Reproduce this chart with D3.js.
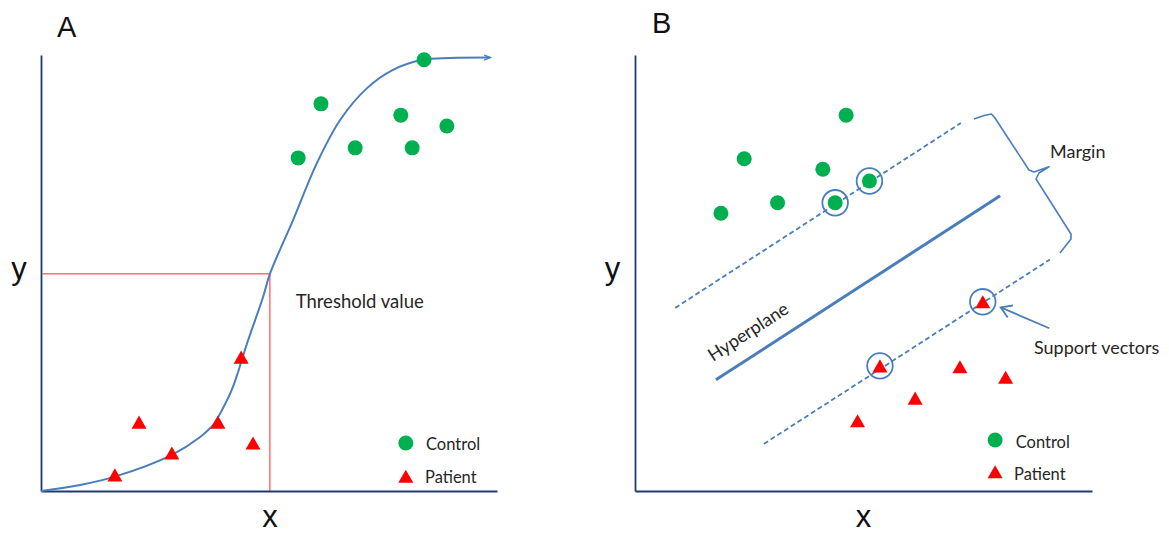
<!DOCTYPE html>
<html>
<head>
<meta charset="utf-8">
<script src="https://cdn.jsdelivr.net/npm/d3@7"></script>
<style>
  html, body { margin: 0; padding: 0; background: #ffffff; }
  svg { display: block; }
</style>
</head>
<body>
<svg id="chart" width="1169" height="534"></svg>
<script>
// ---------------- DATA ----------------
// Panel A: logistic-type curve (x, y in 0..100 units)
const curveAX = [0, 8.6, 16.2, 28.7, 34.9, 37.7, 39.7, 42.1, 45.2, 48.7, 50.2, 55.3, 60.5, 65.6, 71.5, 77.2, 83.8, 89.7, 98.5];
const curveAY = [0, 1.4, 3.3, 8.3, 12.4, 15.1, 18.6, 23.9, 33.9, 44.5, 49.8, 62.2, 75.2, 85.1, 92.4, 96.6, 98.9, 99.3, 99.4];
const controlA = [[56.4, 76.4], [61.4, 88.8], [68.9, 78.7], [78.9, 86.2], [81.4, 78.7], [89.0, 83.7], [84.0, 98.9]];
const patientA = [[16.2, 3.7], [21.5, 15.8], [28.7, 8.7], [38.8, 15.8], [43.9, 30.7], [46.5, 11.0]];
const thresholdA = [50.2, 49.8];

// Panel B: SVM
const controlB = [[18.8, 63.7], [23.9, 76.2], [31.2, 66.1], [41.1, 73.8], [46.2, 86.2], [43.8, 66.1], [51.3, 71.1]];
const patientB = [[76.1, 43.4], [53.6, 28.7], [71.1, 28.5], [81.1, 26.1], [61.3, 21.3], [48.7, 16.1]];
const supportB = [[43.8, 66.1], [51.3, 71.1], [76.1, 43.4], [53.6, 28.7]];
const upperMarginB = [[8.8, 42.0], [71.3, 84.4]];
const hyperplaneB = [[17.7, 25.5], [79.9, 67.7]];
const lowerMarginB = [[28.2, 10.8], [90.8, 53.1]];
const braceB = [[74.18, 85.32], [76.37, 86.12], [78.01, 86.47], [78.77, 85.55], [86.21, 73.62], [87.31, 73.17],
                [90.59, 74.38], [88.40, 72.94], [87.75, 71.56], [95.40, 58.94], [95.40, 57.80], [92.99, 54.59]];
const supportArrowB = [[90.66, 37.32], [80.02, 42.13]];

// Labels
const panelLabels = ["A", "B"];
const axisLabels = ["x", "y"];
const legendLabels = ["Control", "Patient"];
const thresholdLabel = "Threshold value";
const hyperplaneLabel = "Hyperplane";
const marginLabel = "Margin";
const supportLabel = "Support vectors";

// ---------------- STYLE ----------------
const COL_AXIS = "#1f3a6e";
const COL_LINE = "#4a7ebb";
const COL_GREEN = "#00b050";
const COL_RED = "#ff0000";
const COL_TEXT = "#262626";
const ANNOT_FONT = "Lato, 'Open Sans', sans-serif";
const BIG_FONT = "'Liberation Sans', Arial, sans-serif";

const svg = d3.select("#chart");

// marker defs
const defs = svg.append("defs");
defs.append("marker").attr("id", "arrowSmall").attr("markerUnits", "userSpaceOnUse")
  .attr("markerWidth", 20).attr("markerHeight", 20).attr("viewBox", "-10 -10 20 20")
  .attr("refX", 0).attr("refY", 0).attr("orient", "auto")
  .append("path").attr("d", "M-6,-2.5 L0,0 L-6,2.5").attr("fill", "none")
  .attr("stroke", COL_LINE).attr("stroke-width", 1.5);
defs.append("marker").attr("id", "arrowOpen").attr("markerUnits", "userSpaceOnUse")
  .attr("markerWidth", 30).attr("markerHeight", 30).attr("viewBox", "-15 -15 30 30")
  .attr("refX", 0).attr("refY", 0).attr("orient", "auto")
  .append("path").attr("d", "M-10.5,-6.5 L0,0 L-10.5,6.5").attr("fill", "none")
  .attr("stroke", COL_LINE).attr("stroke-width", 1.8).attr("stroke-linejoin", "miter");

// custom triangle symbol (bbox-centred)
const triangleSym = {
  draw(ctx, size) {
    const w = Math.sqrt(size * 1.73);
    const h = w * 0.87;
    ctx.moveTo(0, -h / 2);
    ctx.lineTo(w / 2, h / 2);
    ctx.lineTo(-w / 2, h / 2);
    ctx.closePath();
  }
};
const triPath = d3.symbol().type(triangleSym).size(130)();
const R_DOT = 7.5;

function drawAxes(g, x, y) {
  const xa = g.append("g").attr("transform", `translate(0,${y(0)})`)
    .call(d3.axisBottom(x).tickValues([]).tickSizeOuter(0));
  const ya = g.append("g").attr("transform", `translate(${x(0)},0)`)
    .call(d3.axisLeft(y).tickValues([]).tickSizeOuter(0));
  [xa, ya].forEach(a => a.select(".domain").attr("stroke", COL_AXIS).attr("stroke-width", 1.8));
}

function drawLegend(g, cx, cy1, cy2, tx1, tx2, by1, by2) {
  g.append("circle").attr("cx", cx).attr("cy", cy1).attr("r", R_DOT).attr("fill", COL_GREEN);
  g.append("path").attr("d", triPath).attr("transform", `translate(${cx},${cy2})`).attr("fill", COL_RED);
  g.append("text").attr("x", tx1).attr("y", by1).text(legendLabels[0])
    .attr("font-family", ANNOT_FONT).attr("font-size", 16.5).attr("fill", COL_TEXT);
  g.append("text").attr("x", tx2).attr("y", by2).text(legendLabels[1])
    .attr("font-family", ANNOT_FONT).attr("font-size", 16.5).attr("fill", COL_TEXT);
}

// ---------------- PANEL A ----------------
const xA = d3.scaleLinear().domain([0, 100]).range([41, 497]);
const yA = d3.scaleLinear().domain([0, 100]).range([491, 55]);
const gA = svg.append("g");

drawAxes(gA, xA, yA);

// threshold lines
gA.append("line").attr("x1", xA(0) + 1.5).attr("x2", xA(thresholdA[0]))
  .attr("y1", yA(thresholdA[1])).attr("y2", yA(thresholdA[1]))
  .attr("stroke", COL_RED).attr("stroke-width", 1).attr("stroke-opacity", 0.85);
gA.append("line").attr("x1", xA(thresholdA[0])).attr("x2", xA(thresholdA[0]))
  .attr("y1", yA(thresholdA[1])).attr("y2", yA(0))
  .attr("stroke", COL_RED).attr("stroke-width", 1).attr("stroke-opacity", 0.85);

// curve
const curveA = curveAX.map((v, i) => [v, curveAY[i]]);
gA.append("path").datum(curveA)
  .attr("d", d3.line().x(d => xA(d[0])).y(d => yA(d[1])).curve(d3.curveCatmullRom.alpha(0.5)))
  .attr("fill", "none").attr("stroke", COL_LINE).attr("stroke-width", 2)
  .attr("marker-end", "url(#arrowSmall)");

gA.selectAll("circle.ctrl").data(controlA).join("circle").attr("class", "ctrl")
  .attr("cx", d => xA(d[0])).attr("cy", d => yA(d[1])).attr("r", R_DOT).attr("fill", COL_GREEN);
gA.selectAll("path.pat").data(patientA).join("path").attr("class", "pat")
  .attr("d", triPath).attr("transform", d => `translate(${xA(d[0])},${yA(d[1])})`).attr("fill", COL_RED);

gA.append("text").attr("x", xA(55.85)).attr("y", yA(41.97)).text(thresholdLabel)
  .attr("font-family", ANNOT_FONT).attr("font-size", 18.5).attr("fill", COL_TEXT);

gA.append("text").attr("x", 57).attr("y", 37).text(panelLabels[0])
  .attr("font-family", BIG_FONT).attr("font-size", 29).attr("fill", "#111");
gA.append("text").attr("x", 270).attr("y", 527).attr("text-anchor", "middle").text(axisLabels[0])
  .attr("font-family", BIG_FONT).attr("font-size", 31).attr("fill", "#111");
gA.append("text").attr("x", 19).attr("y", 279).attr("text-anchor", "middle").text(axisLabels[1])
  .attr("font-family", BIG_FONT).attr("font-size", 31).attr("fill", "#111");

drawLegend(gA, xA(80.0), yA(11.0), yA(3.4), 426, 425, 449.5, 482.5);

// ---------------- PANEL B ----------------
const xB = d3.scaleLinear().domain([0, 100]).range([635, 1092]);
const yB = d3.scaleLinear().domain([0, 100]).range([491, 55]);
const gB = svg.append("g");

drawAxes(gB, xB, yB);

const lineB = d3.line().x(d => xB(d[0])).y(d => yB(d[1]));
[upperMarginB, lowerMarginB].forEach(seg => {
  gB.append("path").datum(seg).attr("d", lineB).attr("fill", "none")
    .attr("stroke", COL_LINE).attr("stroke-width", 1.8).attr("stroke-dasharray", "5,3");
});
gB.append("path").datum(hyperplaneB).attr("d", lineB).attr("fill", "none")
  .attr("stroke", COL_LINE).attr("stroke-width", 3);

gB.selectAll("circle.ctrl").data(controlB).join("circle").attr("class", "ctrl")
  .attr("cx", d => xB(d[0])).attr("cy", d => yB(d[1])).attr("r", R_DOT).attr("fill", COL_GREEN);
gB.selectAll("path.pat").data(patientB).join("path").attr("class", "pat")
  .attr("d", triPath).attr("transform", d => `translate(${xB(d[0])},${yB(d[1])})`).attr("fill", COL_RED);
gB.selectAll("circle.sv").data(supportB).join("circle").attr("class", "sv")
  .attr("cx", d => xB(d[0])).attr("cy", d => yB(d[1])).attr("r", 12.8)
  .attr("fill", "none").attr("stroke", COL_LINE).attr("stroke-width", 1.8);

// brace
gB.append("path").datum(braceB).attr("d", lineB).attr("fill", "none")
  .attr("stroke", COL_LINE).attr("stroke-width", 1.6).attr("stroke-linejoin", "round");

// support vector arrow
gB.append("path").datum(supportArrowB).attr("d", lineB).attr("fill", "none")
  .attr("stroke", COL_LINE).attr("stroke-width", 1.8).attr("marker-end", "url(#arrowOpen)");

// hyperplane label rotated along the line
const hx0 = xB(hyperplaneB[0][0]), hy0 = yB(hyperplaneB[0][1]);
const hx1 = xB(hyperplaneB[1][0]), hy1 = yB(hyperplaneB[1][1]);
const ang = Math.atan2(hy1 - hy0, hx1 - hx0) * 180 / Math.PI;
gB.append("text").attr("transform", `translate(${xB(17.07)},${yB(29.59)}) rotate(${ang})`)
  .text(hyperplaneLabel).attr("font-family", ANNOT_FONT).attr("font-size", 18).attr("fill", COL_TEXT);

gB.append("text").attr("x", xB(90.81)).attr("y", yB(76.44)).text(marginLabel)
  .attr("font-family", ANNOT_FONT).attr("font-size", 18).attr("fill", COL_TEXT);
gB.append("text").attr("x", xB(87.31)).attr("y", yB(31.42)).text(supportLabel)
  .attr("font-family", ANNOT_FONT).attr("font-size", 18).attr("fill", COL_TEXT);

gB.append("text").attr("x", 652).attr("y", 32.5).text(panelLabels[1])
  .attr("font-family", BIG_FONT).attr("font-size", 29).attr("fill", "#111");
gB.append("text").attr("x", 863.5).attr("y", 527).attr("text-anchor", "middle").text(axisLabels[0])
  .attr("font-family", BIG_FONT).attr("font-size", 31).attr("fill", "#111");
gB.append("text").attr("x", 612.5).attr("y", 279).attr("text-anchor", "middle").text(axisLabels[1])
  .attr("font-family", BIG_FONT).attr("font-size", 31).attr("fill", "#111");

drawLegend(gB, xB(78.8), yB(11.7), yB(4.4), 1015.7, 1014, 448.3, 480);
</script>
</body>
</html>
